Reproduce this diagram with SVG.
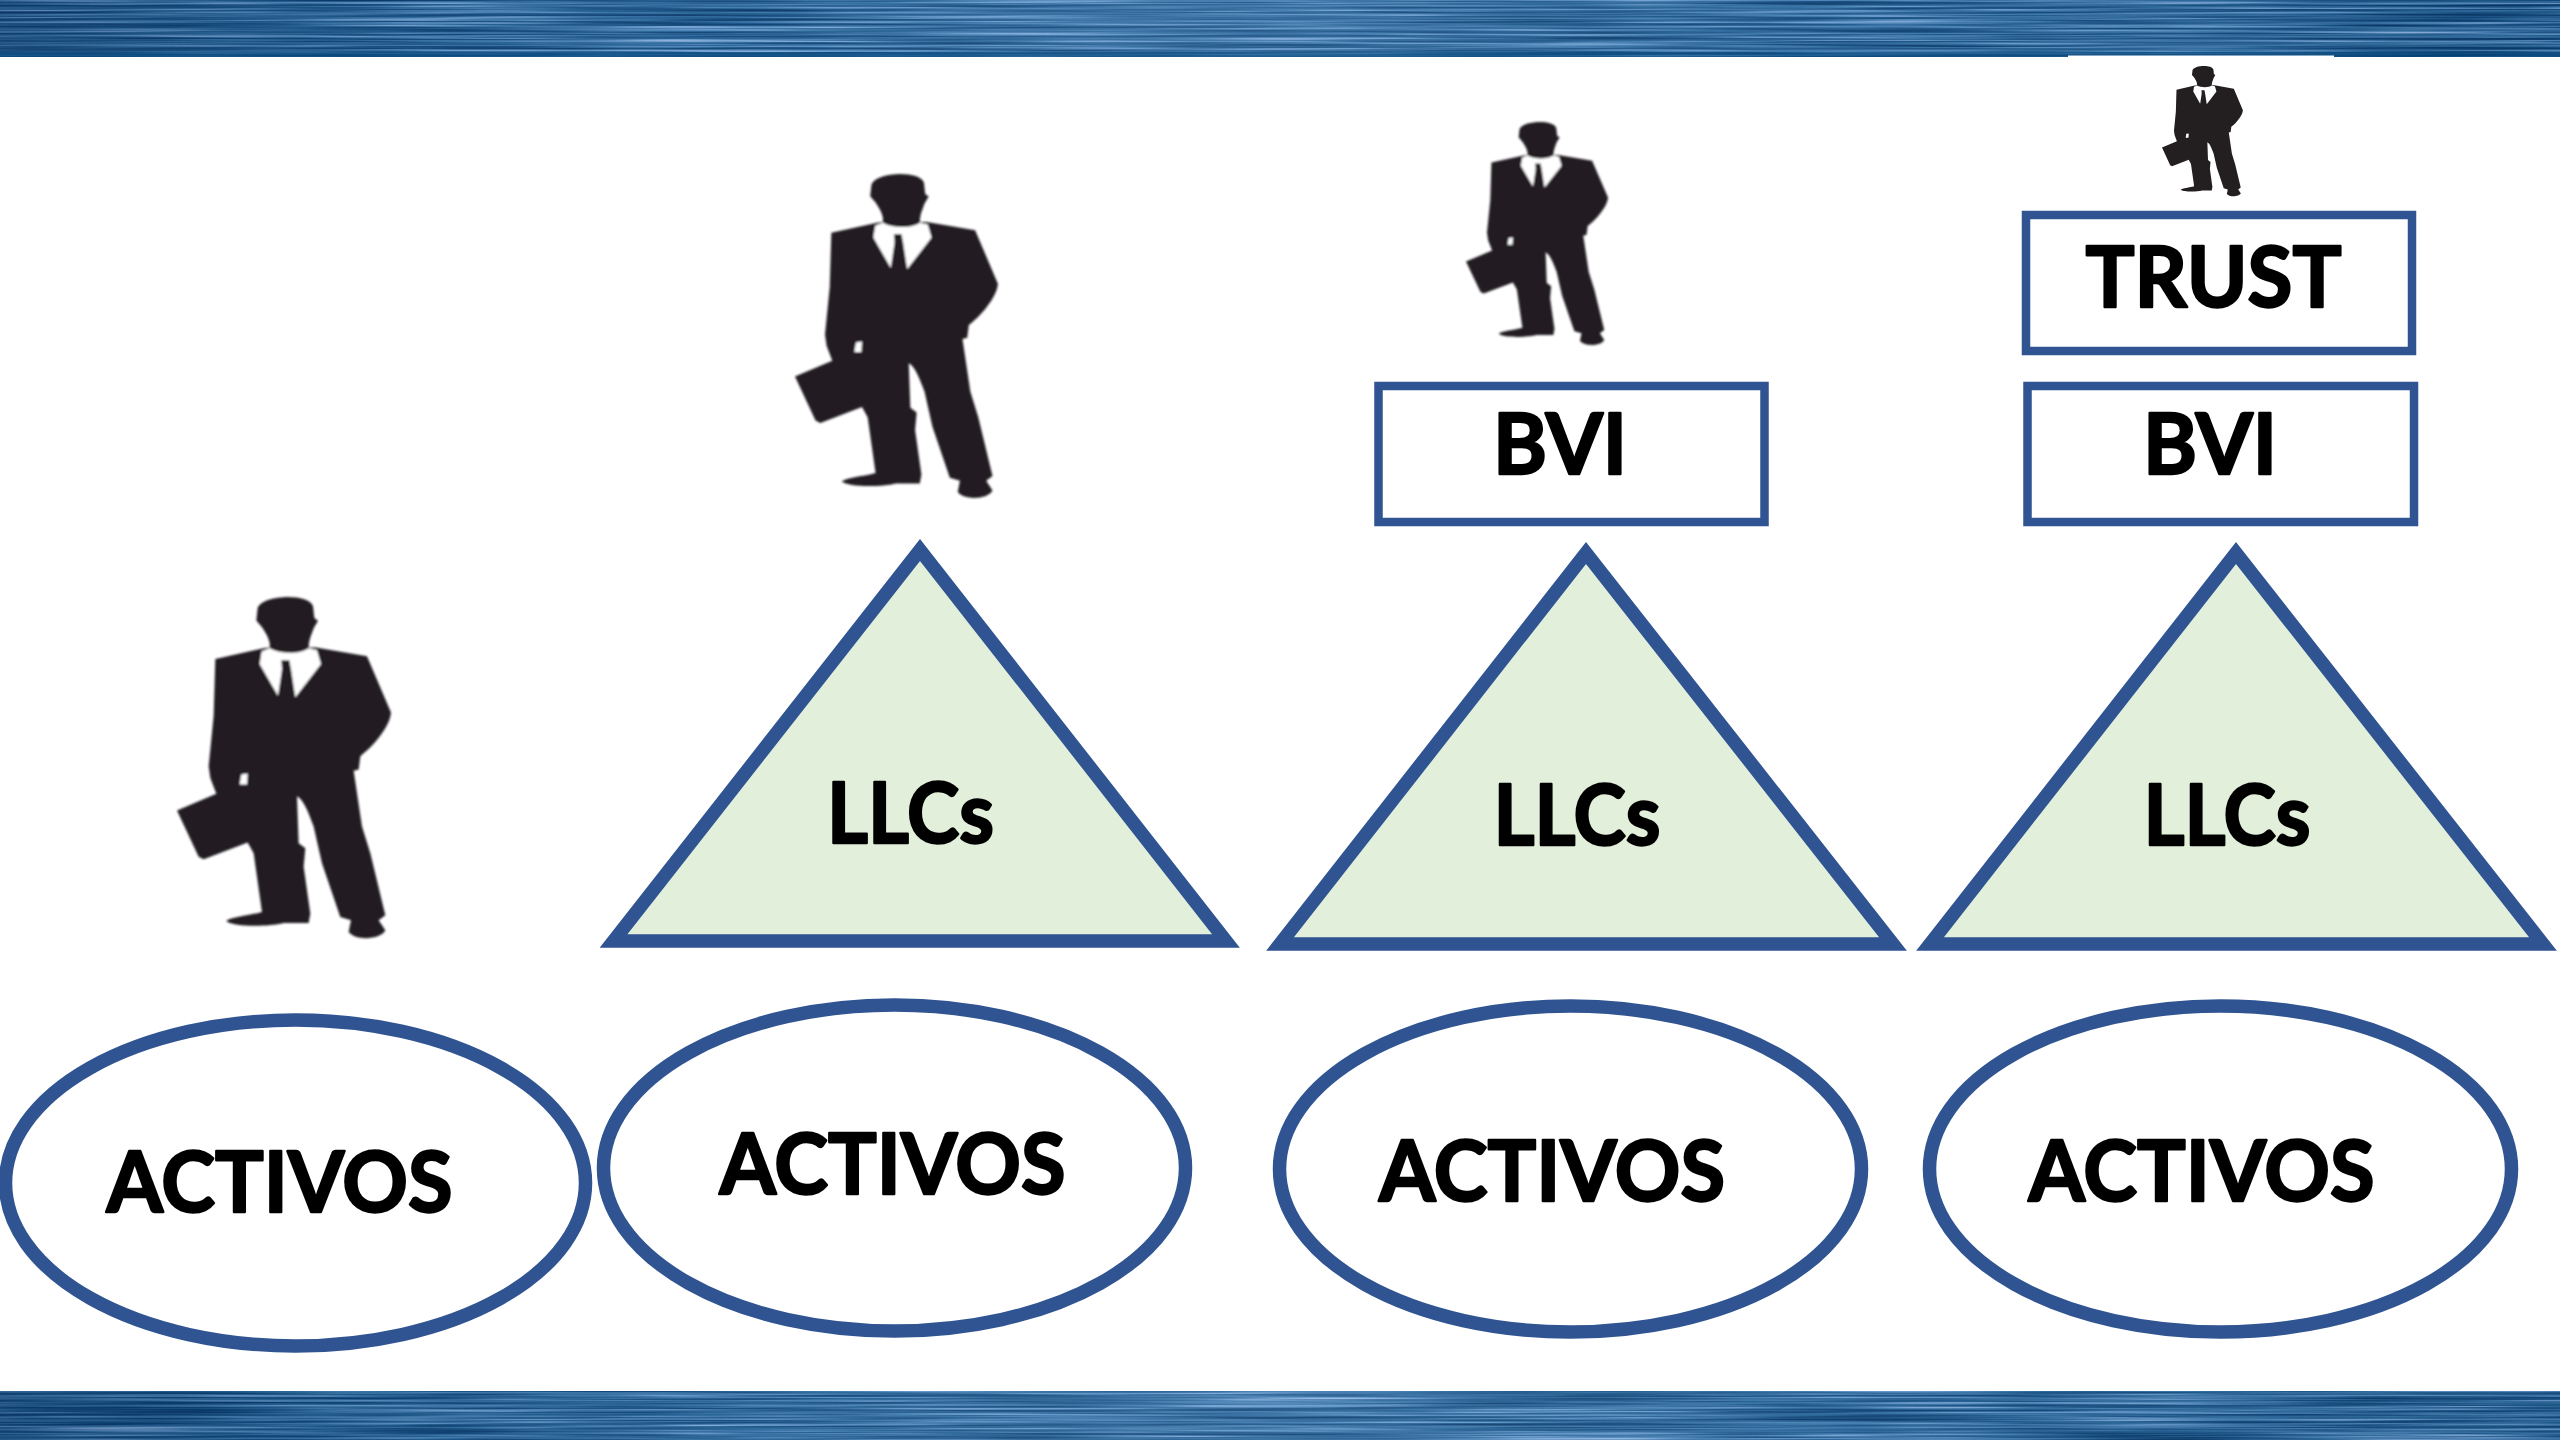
<svg xmlns="http://www.w3.org/2000/svg" xmlns:xlink="http://www.w3.org/1999/xlink" width="2560" height="1440" viewBox="0 0 2560 1440">
<style>
.shape{stroke:#2f5491;stroke-width:13.5;stroke-miterlimit:20}
.box{fill:#fff;stroke:#2f5491;stroke-width:8.500}
.ell{fill:#fff}
.tri{fill:#e2efda}
.lbl{font-family:"Lato","Noto Sans",sans-serif;font-weight:700;font-size:85px;fill:#000;stroke:#000;stroke-width:2.4;stroke-linejoin:round}
</style>
<defs>
<filter id="streak" x="0" y="0" width="100%" height="100%" color-interpolation-filters="sRGB">
<feTurbulence type="fractalNoise" baseFrequency="0.0035 0.42" numOctaves="3" seed="11"/>
<feColorMatrix type="matrix" values="1 0 0 0 0 1 0 0 0 0 1 0 0 0 0 0 0 0 0 1"/>
<feComponentTransfer>
<feFuncR type="table" tableValues="0.03 0.03 0.05 0.1 0.17 0.27 0.42 0.6 0.7"/>
<feFuncG type="table" tableValues="0.2 0.2 0.25 0.32 0.4 0.49 0.61 0.72 0.8"/>
<feFuncB type="table" tableValues="0.38 0.38 0.44 0.52 0.6 0.69 0.8 0.88 0.92"/>
</feComponentTransfer>
</filter>
<linearGradient id="glow" x1="0" y1="0" x2="1" y2="0">
<stop offset="0" stop-color="#0a2c55" stop-opacity=".35"/>
<stop offset=".12" stop-color="#0a2c55" stop-opacity=".1"/>
<stop offset=".3" stop-color="#8fb6e0" stop-opacity=".08"/>
<stop offset=".45" stop-color="#8fb6e0" stop-opacity=".2"/>
<stop offset=".7" stop-color="#8fb6e0" stop-opacity=".08"/>
<stop offset="1" stop-color="#0a2c55" stop-opacity=".12"/>
</linearGradient>
<filter id="soft" x="-5%" y="-5%" width="110%" height="110%"><feGaussianBlur stdDeviation="1.1"/></filter>
<g id="man">
<path fill="#231f20" d="M352,118 C366,78 504,72 518,112 L522,148 L533,156 L520,178 C512,200 505,215 505,236 L527,236 L680,262 L752,430 C750,470 700,530 660,560 L655,600 L640,604 L665,770 L690,850 L735,1035 L715,1050 L735,1080 C725,1105 650,1115 625,1085 L632,1050 L600,1040 L545,880 L520,770 C505,730 490,690 470,680 L475,820 L495,835 L490,890 L510,1030 L505,1058 L430,1058 C380,1070 280,1070 258,1052 C270,1040 330,1035 365,1025 L340,850 L322,818 L190,868 L175,860 L110,722 L228,672 L210,625 L205,590 L220,440 L225,270 L370,238 L388,236 C392,215 375,190 365,175 L348,155 Z"/>
<path fill="#fff" d="M364,248 L388,238 C420,256 480,256 505,238 L530,244 L542,285 L465,384 L452,300 L447,274 L423,274 L425,300 L413,380 L358,285 Z"/>
<path fill="#fff" d="M303,615 L322,612 L320,645 L298,645 Z"/>
</g>
</defs>

<g id="bar-top">
<rect x="0" y="0" width="2560" height="57" filter="url(#streak)"/>
<rect x="0" y="0" width="2560" height="57" fill="url(#glow)"/>
<rect x="0" y="52" width="2560" height="5" fill="#07497f" opacity=".6"/>
<rect x="2068" y="55.5" width="266" height="3" fill="#fff"/>
</g>
<g id="bar-bottom">
<rect x="0" y="1391" width="2560" height="49" filter="url(#streak)"/>
<rect x="0" y="1391" width="2560" height="49" fill="url(#glow)"/>
</g>

<g id="person-1" filter="url(#soft)"><use xlink:href="#man" href="#man" transform="translate(177,597) scale(.3333,.335) translate(-110,-85)"/></g>
<g id="person-2" filter="url(#soft)"><use xlink:href="#man" href="#man" transform="translate(795,174) scale(.316,.318) translate(-110,-85)"/></g>
<g id="person-3" filter="url(#soft)"><use xlink:href="#man" href="#man" transform="translate(1466,122) scale(.2212,.219) translate(-110,-85)"/></g>
<g id="person-4"><use xlink:href="#man" href="#man" transform="translate(2162,66) scale(.126,.128) translate(-110,-85)"/></g>

<g id="llc-1"><polygon class="shape tri" points="920,550 613.5,941 1226,941"/><text class="lbl" x="827" y="843" textLength="167" lengthAdjust="spacingAndGlyphs">LLCs</text></g>
<g id="llc-2"><polygon class="shape tri" points="1586,553 1280,944 1893,944"/><text class="lbl" x="1493.500" y="845" textLength="167" lengthAdjust="spacingAndGlyphs">LLCs</text></g>
<g id="llc-3"><polygon class="shape tri" points="2236,553 1930,944 2543,944"/><text class="lbl" x="2143.500" y="845" textLength="167" lengthAdjust="spacingAndGlyphs">LLCs</text></g>

<g id="bvi-1"><rect class="box" x="1378.500" y="386" width="386" height="136"/><text class="lbl" x="1493" y="474" textLength="134" lengthAdjust="spacingAndGlyphs">BVI</text></g>
<g id="bvi-2"><rect class="box" x="2027.500" y="386" width="386.500" height="136"/><text class="lbl" x="2143" y="474" textLength="134" lengthAdjust="spacingAndGlyphs">BVI</text></g>
<g id="trust"><rect class="box" x="2026" y="215" width="386" height="136"/><text class="lbl" x="2085.500" y="307" textLength="256" lengthAdjust="spacingAndGlyphs">TRUST</text></g>

<g id="activos-1"><ellipse class="shape ell" cx="295.500" cy="1183" rx="290" ry="163"/><text class="lbl" x="106.500" y="1212" textLength="346" lengthAdjust="spacingAndGlyphs">ACTIVOS</text></g>
<g id="activos-2"><ellipse class="shape ell" cx="894.500" cy="1168" rx="291" ry="163"/><text class="lbl" x="719.500" y="1194" textLength="346" lengthAdjust="spacingAndGlyphs">ACTIVOS</text></g>
<g id="activos-3"><ellipse class="shape ell" cx="1570.500" cy="1169" rx="291" ry="163"/><text class="lbl" x="1379" y="1201" textLength="346" lengthAdjust="spacingAndGlyphs">ACTIVOS</text></g>
<g id="activos-4"><ellipse class="shape ell" cx="2220.500" cy="1169" rx="291" ry="163"/><text class="lbl" x="2028.500" y="1201" textLength="346" lengthAdjust="spacingAndGlyphs">ACTIVOS</text></g>
</svg>
